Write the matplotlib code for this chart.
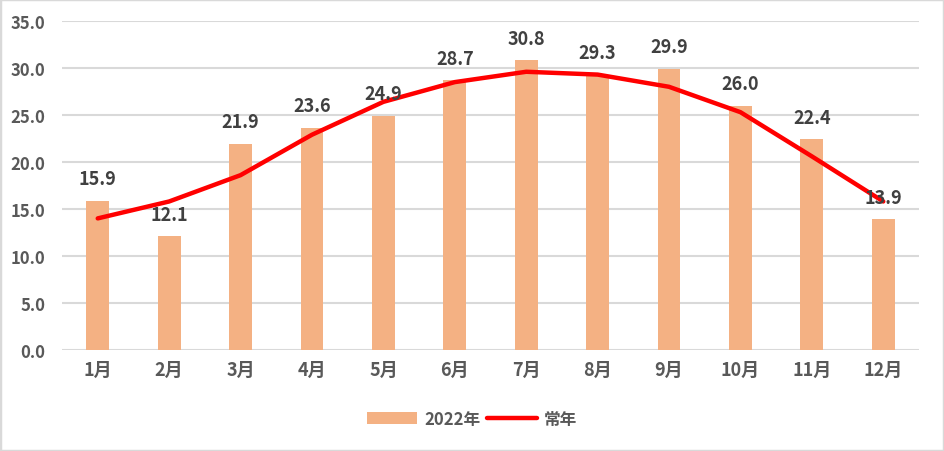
import matplotlib.pyplot as plt
from matplotlib.patches import Rectangle

plt.rcParams['font.family'] = ['Noto Sans CJK SC', 'DejaVu Sans']

months = ["1月", "2月", "3月", "4月", "5月", "6月", "7月", "8月", "9月", "10月", "11月", "12月"]
y2022 = [15.9, 12.1, 21.9, 23.6, 24.9, 28.7, 30.8, 29.3, 29.9, 26.0, 22.4, 13.9]
normal = [14.0, 15.8, 18.6, 22.9, 26.4, 28.5, 29.6, 29.3, 28.0, 25.3, 20.6, 15.8]
yticks = [0, 5, 10, 15, 20, 25, 30, 35]

fig = plt.figure(figsize=(9.44, 4.52), dpi=100)
fig.patches.append(Rectangle((0, 0), 1, 1, transform=fig.transFigure,
                             fill=False, edgecolor="#d9d9d9", linewidth=2.5))
ax = fig.add_axes([0.0657, 0.2235, 0.9078, 0.7278])

x = range(len(months))
bars = ax.bar(x, y2022, width=0.32, color="#F4B183", label="2022年", zorder=2)
line, = ax.plot(x, normal, color="#FF0000", linewidth=3.2, solid_capstyle="round",
                solid_joinstyle="round", label="常年", zorder=3)

for i, v in zip(x, y2022):
    ax.annotate(f"{v:.1f}", (i, v), xytext=(0, 16), textcoords="offset points",
                ha="center", va="center", fontsize=13, fontweight="bold",
                color="#404040", zorder=4)

ax.set_xlim(-0.5, len(months) - 0.5)
ax.set_ylim(0, 35)
ax.set_yticks(yticks)
ax.set_yticklabels([f"{t:.1f}" for t in yticks], fontsize=12, fontweight="bold", color="#595959")
ax.set_xticks(list(x))
ax.set_xticklabels(months, fontsize=13, fontweight="bold", color="#595959")
ax.tick_params(length=0, pad=7)
ax.tick_params(axis="y", pad=12)
ax.grid(axis="y", color="#d9d9d9", linewidth=1.5, zorder=0)
for s in ax.spines.values():
    s.set_visible(False)

ax.legend([bars, line], ["2022年", "常年"], loc="center",
          bbox_to_anchor=(0.5, 1 - 420 / 452), bbox_transform=fig.transFigure,
          ncol=2, frameon=False, prop={"size": 12, "weight": "bold"},
          handlelength=3, handletextpad=0.4, columnspacing=0.4, labelcolor="#595959")

fig.savefig("out.png", dpi=100)
